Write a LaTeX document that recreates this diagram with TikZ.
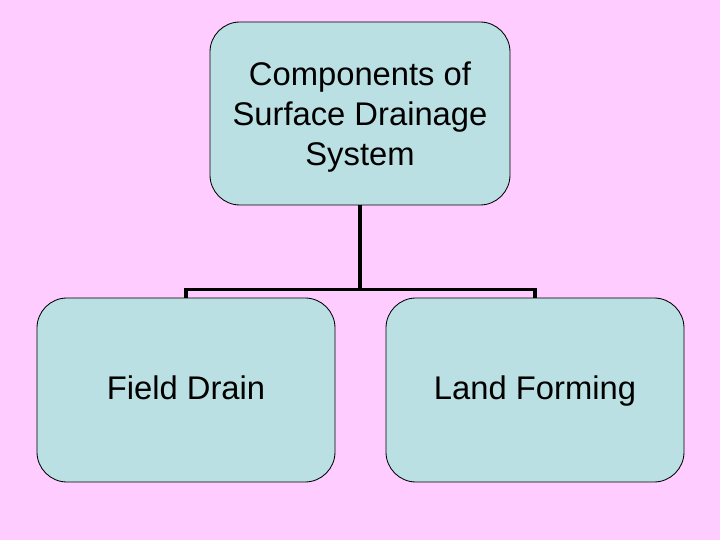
\documentclass[tikz,border=0pt]{standalone}
\usepackage{fontspec}
\setmainfont{Liberation Sans}
\usetikzlibrary{positioning}
\definecolor{pagepink}{HTML}{FFCCFF}
\definecolor{boxblue}{HTML}{BBE0E3}

\begin{document}
\begin{tikzpicture}[
	font=\fontsize{23.3}{28.5}\selectfont,
	comp/.style={rectangle, rounded corners=0.75cm, draw=black, line width=0.6pt, fill=boxblue, minimum width=7.45cm, minimum height=4.6cm, align=center, text depth=0pt},
	part/.style={comp, text height=1.34em},
	link/.style={line width=2.3pt, draw=black}
]

% --- Page ---
\fill[pagepink] (0,0) rectangle (18,13.5);

% --- Top: main heading ---
\node[comp, minimum width=7.5cm, minimum height=4.575cm] (system) at (9,10.6625) {Components of\\Surface Drainage\\System};

% --- Bottom: the two parts ---
\node[part] (field) at (4.65,3.75) {Field Drain};
\node[part] (land) at (13.375,3.75) {Land Forming};

% --- Edges ---
\draw[link] (system.south) -- ++(0,-2.1) coordinate (bus);
\draw[link] (field.north) |- (bus) -| (land.north);

\end{tikzpicture}
\end{document}
